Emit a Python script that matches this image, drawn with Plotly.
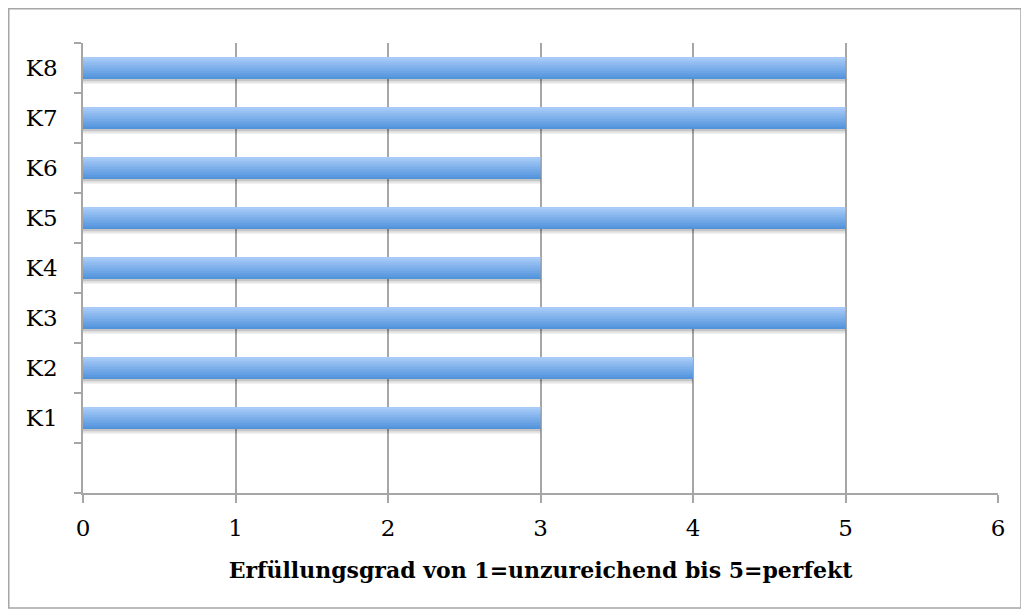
import plotly.graph_objects as go

categories = ["K1", "K2", "K3", "K4", "K5", "K6", "K7", "K8"]
values = [3, 4, 5, 3, 5, 3, 5, 5]
x_ticks = [0, 1, 2, 3, 4, 5, 6]
x_title = "Erfüllungsgrad von 1=unzureichend bis 5=perfekt"

positions = list(range(1, len(categories) + 1))

W, H = 1029, 616
L, R, T, B = 75, 39, 35, 131
pw, ph = W - L - R, H - T - B

fig = go.Figure()

# soft shadow under bars
for k, (dy, alpha) in enumerate([(-0.10, 0.06), (-0.07, 0.08), (-0.04, 0.10)]):
    fig.add_trace(go.Bar(
        x=values, y=positions, orientation="h",
        width=0.44, offset=-0.22 + dy,
        marker=dict(color=f"rgba(0,0,0,{alpha})", line=dict(width=0)),
        hoverinfo="skip", showlegend=False,
    ))

# gradient bar built from strips (bottom dark -> top light)
n = 11
bw = 0.44
top = (168, 203, 248)
bot = (82, 148, 220)
for i in range(n):
    t = i / (n - 1)
    c = tuple(round(bot[j] + (top[j] - bot[j]) * t) for j in range(3))
    fig.add_trace(go.Bar(
        x=values, y=positions, orientation="h",
        width=bw / n + 0.002, offset=-bw / 2 + i * bw / n,
        marker=dict(color=f"rgb{c}", line=dict(width=0)),
        hoverinfo="skip", showlegend=False,
    ))

grid = "#a6a6a6"
fig.update_layout(
    width=W, height=H,
    margin=dict(l=L, r=R, t=T, b=B),
    paper_bgcolor="white", plot_bgcolor="white",
    barmode="overlay",
    font=dict(family="DejaVu Serif", size=23, color="black"),
    xaxis=dict(
        range=[0, 6], tickvals=x_ticks, showgrid=True, gridcolor=grid, gridwidth=1.5,
        zeroline=False, showline=True, linecolor=grid, linewidth=1.5,
        ticks="outside", ticklen=8, tickcolor=grid, tickwidth=1.5,
        ticklabelstandoff=6,
        tickfont=dict(size=23),
        title=dict(text="<b>" + x_title + "</b>", font=dict(size=22), standoff=22),
        fixedrange=True,
    ),
    yaxis=dict(
        range=[-0.5, 8.5], tickvals=positions, ticktext=categories,
        showgrid=False, zeroline=False, showline=True, linecolor=grid, linewidth=1.5,
        ticks="", ticklabelstandoff=19,
        tickfont=dict(size=23),
        minor=dict(tick0=-0.5, dtick=1, ticks="outside", ticklen=7,
                   tickcolor=grid, tickwidth=1.5, showgrid=False),
        fixedrange=True,
    ),
    shapes=[dict(
        type="rect", xref="paper", yref="paper",
        x0=(0.75 - L) / pw, x1=(1013 - L) / pw,
        y0=(H - B - 600) / ph, y1=(H - B - 0.75) / ph,
        line=dict(color="#a6a6a6", width=1.5), fillcolor="rgba(0,0,0,0)",
        layer="below",
    )],
)

fig.write_html("out.html")
